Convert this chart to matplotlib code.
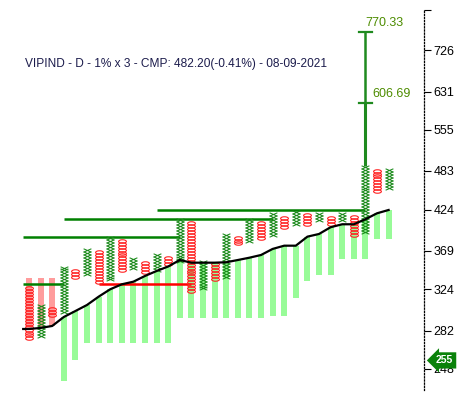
import numpy as np
import matplotlib
matplotlib.use("Agg")
import matplotlib.pyplot as plt
from matplotlib.path import Path
from matplotlib.ticker import FixedLocator, FixedFormatter

plt.rcParams['font.family'] = ['Liberation Sans', 'DejaVu Sans']

title = "VIPIND - D - 1% x 3 - CMP: 482.20(-0.41%) - 08-09-2021"
box_pct = 1.0

# point & figure columns, first column is O, then alternating
col_type = ['O', 'X'] * 16
col_lo = [274.6, 277.0, 297.0, 300.4, 338.0, 341.8, 332.4, 335.0, 345.6, 348.4,
          343.8, 345.6, 353.5, 356.0, 322.0, 325.0, 335.4, 338.0, 378.2, 381.2,
          385.5, 389.0, 400.0, 404.5, 404.5, 409.0, 404.5, 409.0, 389.0, 393.4,
          451.0, 456.3]
col_hi = [325.3, 305.9, 303.5, 348.0, 345.3, 370.3, 366.0, 383.7, 380.0, 359.2,
          355.9, 363.2, 359.2, 407.3, 403.0, 355.9, 352.0, 389.4, 385.0, 408.2,
          404.0, 417.4, 413.2, 419.8, 417.4, 416.6, 412.8, 416.6, 412.8, 490.3,
          484.8, 484.8]

# moving average per column
ma = [283.5, 284.5, 286.4, 295.2, 301.2, 307.4, 316.1, 324.1, 329.6, 332.5,
      339.0, 344.7, 350.0, 357.7, 354.5, 354.5, 354.5, 355.0, 357.7, 360.5,
      363.8, 371.3, 375.4, 375.4, 387.0, 390.5, 399.5, 403.5, 403.5, 410.4,
      418.7, 423.4]

# other end of the band bar (bar runs from ma to this level)
band = [336.7, 336.7, 336.7, 237.9, 255.4, 270.7, 270.7, 270.7, 270.7, 270.7,
        270.7, 270.7, 270.7, 293.9, 293.9, 293.9, 293.9, 293.9, 293.9, 293.9,
        293.9, 296.2, 296.2, 315.0, 333.6, 340.1, 340.1, 358.6, 358.6, 358.6,
        384.0, 384.0]

# support / resistance lines: (price, start col, end col, colour)
sr_lines = [(329.6, -0.5, 3, 'green'),
            (387.2, -0.5, 13, 'green'),
            (410.7, 3, 21, 'green'),
            (423.4, 11, 29, 'green'),
            (329.6, 6, 14, 'red')]

# vertical count targets from column 29
target_col = 29
targets = [606.69, 770.33]

ytick_vals = [726, 631, 555, 483, 424, 369, 324, 282, 248]
last_marker = 255

# marker shapes
x_path = Path([(-0.5, -0.22), (0.5, 0.22), (-0.5, 0.22), (0.5, -0.22)],
              [Path.MOVETO, Path.LINETO, Path.MOVETO, Path.LINETO])
circ = Path.unit_circle()
o_path = Path(circ.vertices * np.array([0.45, 0.2]), circ.codes)

fig = plt.figure(figsize=(4.63, 3.95), dpi=100)
ax = fig.add_axes([0, 5 / 395, 424 / 463, 380 / 395])
ax.set_yscale('log')
ax.set_xlim(-2.5, 34.05)
ax.set_ylim(230.8, 830.8)

cols = np.arange(len(col_type))
ma = np.array(ma)
band = np.array(band)

# band bars
for i in cols:
    lo, hi = min(ma[i], band[i]), max(ma[i], band[i])
    c = '#98fb98' if band[i] < ma[i] else '#ff9c9c'
    ax.bar(i, hi - lo, bottom=lo, width=0.52, color=c, zorder=1, linewidth=0)

# boxes
step = np.log(1 + box_pct / 100)
for i in cols:
    n = int(round(np.log(col_hi[i] / col_lo[i]) / step))
    prices = col_lo[i] * (1 + box_pct / 100) ** np.arange(n + 1)
    if col_type[i] == 'X':
        ax.plot(np.full(n + 1, i), prices, ls='none', marker=x_path, ms=5.6,
                mec='#1a8a1a', mew=0.75, zorder=3)
    else:
        ax.plot(np.full(n + 1, i), prices, ls='none', marker=o_path, ms=5.6,
                mfc='none', mec='#ff2020', mew=0.8, zorder=3)

# moving average
ax.plot(np.r_[-0.5, cols], np.r_[ma[0], ma], color='black', lw=1.6, zorder=4)

# support / resistance
for p, a, b, c in sr_lines:
    ax.plot([a, b], [p, p], color=c, lw=1.8, zorder=2,
            solid_capstyle='butt')

# targets
ax.plot([target_col, target_col], [col_hi[target_col], targets[0]],
        color='#1f8a1f', lw=2.2, zorder=4, solid_capstyle='butt')
ax.plot([target_col, target_col], [targets[0], targets[1]],
        color='#1f8a1f', lw=1.8, zorder=4, solid_capstyle='butt')
for t, dx in zip(targets, [0.6, 0.0]):
    ax.plot([target_col - 0.55, target_col + 0.55], [t, t], color='#1f8a1f',
            lw=1.6, zorder=4)
    ax.text(target_col + dx, t * 1.012, f"{t:.2f}", color='#4d8c00',
            fontsize=9, ha='left', va='bottom')

# axes styling
for s in ['left', 'top', 'bottom']:
    ax.spines[s].set_visible(False)
ax.spines['right'].set_linestyle((0, (1, 1.5)))
ax.spines['right'].set_linewidth(0.9)
ax.set_xticks([])
ax.yaxis.tick_right()
ax.yaxis.set_major_locator(FixedLocator(ytick_vals))
ax.yaxis.set_major_formatter(FixedFormatter([str(v) for v in ytick_vals]))
ax.yaxis.set_minor_locator(FixedLocator([ax.get_ylim()[1]]))
ax.tick_params(axis='y', which='both', direction='out', length=5, width=0.8,
               labelsize=9, pad=2)

# last price tag
ax.text(1.028, last_marker, str(last_marker), transform=ax.get_yaxis_transform(),
        color='white', fontsize=7.5, fontweight='bold', ha='left', va='center',
        bbox=dict(boxstyle='larrow,pad=0.3', fc='#0a820a', ec='none'),
        zorder=6, clip_on=False)

fig.text(25 / 463, 1 - 64 / 395, title, fontsize=8.6, color='#1c1c4c',
         ha='left', va='center')

fig.savefig('out.png', dpi=100)
